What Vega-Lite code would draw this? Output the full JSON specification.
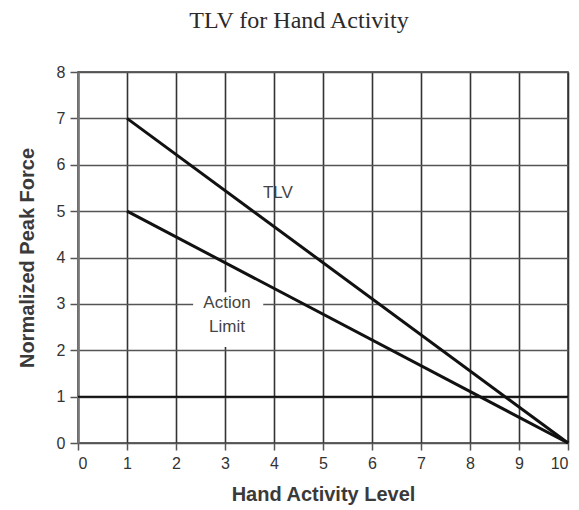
{
  "$schema": "https://vega.github.io/schema/vega-lite/v6.json",
  "autosize": "none",
  "width": 490,
  "height": 371,
  "padding": {"left": 78, "top": 72, "right": 11, "bottom": 67},
  "background": "white",
  "title": {
    "text": "TLV for Hand Activity",
    "font": "Liberation Serif",
    "fontSize": 24,
    "fontWeight": "normal",
    "color": "#2a2a2a",
    "anchor": "middle",
    "dx": -24,
    "offset": 31
  },
  "config": {
    "view": {"stroke": "#333", "strokeWidth": 1.5},
    "axis": {
      "labelFont": "Liberation Sans",
      "labelFontSize": 16,
      "labelColor": "#333",
      "titleFont": "Liberation Sans",
      "titleFontSize": 20,
      "titleFontWeight": "bold",
      "titleColor": "#3a3a3a",
      "domainColor": "#777",
      "domainWidth": 2.5,
      "tickColor": "#555",
      "tickWidth": 1.5,
      "gridWidth": 1.6
    }
  },
  "datasets": {
    "lines": [
      {"series": "TLV", "level": 1, "force": 7},
      {"series": "TLV", "level": 10, "force": 0},
      {"series": "Action Limit", "level": 1, "force": 5},
      {"series": "Action Limit", "level": 10, "force": 0}
    ],
    "box": [
      {"x1": 2.35, "x2": 3.78, "y1": 2.07, "y2": 3.25}
    ],
    "labels": [
      {"label": "TLV", "level": 4.08, "force": 5.39},
      {"label": "Action", "level": 3.04, "force": 3.02},
      {"label": "Limit", "level": 3.04, "force": 2.5}
    ],
    "ref": [{"force": 1}]
  },
  "layer": [
    {
      "data": {"name": "lines"},
      "mark": {"type": "line", "opacity": 0},
      "encoding": {
        "x": {
          "field": "level", "type": "quantitative",
          "scale": {"domain": [0, 10], "nice": false},
          "title": "Hand Activity Level",
          "axis": {
            "values": [0,0.5,1,1.5,2,2.5,3,3.5,4,4.5,5,5.5,6,6.5,7,7.5,8,8.5,9,9.5,10],
            "labelExpr": "datum.value % 1 == 0 ? datum.label : ''",
            "grid": true,
            "gridColor": "#333",
            "gridOpacity": {"condition": {"test": "datum.value % 1 != 0", "value": 0}, "value": 1},
            "tickSize": {"condition": {"test": "datum.value % 1 != 0", "value": 3}, "value": 7},
            "labelPadding": 5,
            "titlePadding": 13,
            "domain": false
          }
        },
        "y": {
          "field": "force", "type": "quantitative",
          "scale": {"domain": [0, 8], "nice": false},
          "title": "Normalized Peak Force",
          "axis": {
            "values": [0,0.5,1,1.5,2,2.5,3,3.5,4,4.5,5,5.5,6,6.5,7,7.5,8],
            "labelExpr": "datum.value % 1 == 0 ? datum.label : ''",
            "grid": true,
            "gridColor": "#555",
            "gridOpacity": {"condition": {"test": "datum.value % 1 != 0", "value": 0}, "value": 1},
            "tickSize": {"condition": {"test": "datum.value % 1 != 0", "value": 3}, "value": 8},
            "labelPadding": 5,
            "titlePadding": 19
          }
        }
      }
    },
    {
      "data": {"name": "box"},
      "mark": {"type": "rect", "fill": "white"},
      "encoding": {
        "x": {"field": "x1", "type": "quantitative"},
        "x2": {"field": "x2"},
        "y": {"field": "y1", "type": "quantitative"},
        "y2": {"field": "y2"}
      }
    },
    {
      "data": {"name": "ref"},
      "mark": {"type": "rule", "color": "#111", "strokeWidth": 2},
      "encoding": {"y": {"field": "force", "type": "quantitative"}}
    },
    {
      "data": {"name": "lines"},
      "mark": {"type": "line", "color": "#111", "strokeWidth": 3},
      "encoding": {
        "x": {"field": "level", "type": "quantitative"},
        "y": {"field": "force", "type": "quantitative"},
        "detail": {"field": "series"}
      }
    },
    {
      "data": {"name": "labels"},
      "mark": {"type": "text", "font": "Liberation Sans", "fontSize": 17, "color": "#444"},
      "encoding": {
        "x": {"field": "level", "type": "quantitative"},
        "y": {"field": "force", "type": "quantitative"},
        "text": {"field": "label"}
      }
    }
  ]
}
